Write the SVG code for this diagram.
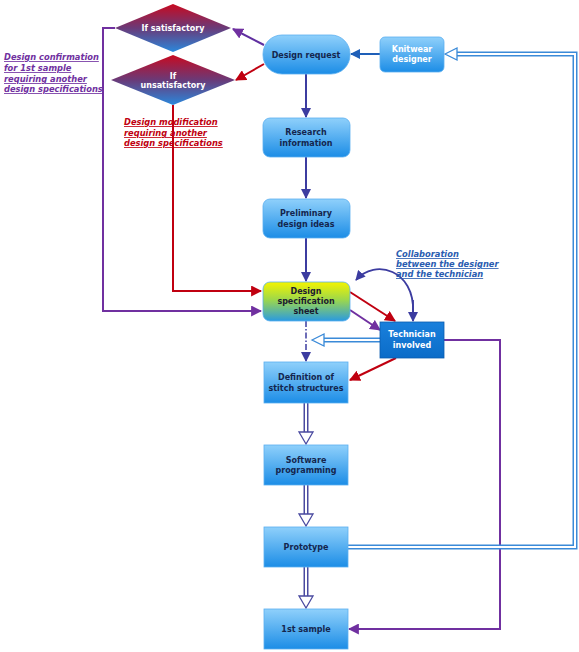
<svg xmlns="http://www.w3.org/2000/svg" width="579" height="652" viewBox="0 0 579 652">
<defs>
<linearGradient id="gBox" x1="0" y1="0" x2="0" y2="1">
<stop offset="0" stop-color="#8fd0fb"/><stop offset="1" stop-color="#1c8de6"/>
</linearGradient>
<linearGradient id="gTech" x1="0" y1="0" x2="0" y2="1">
<stop offset="0" stop-color="#1a80dc"/><stop offset="1" stop-color="#0b6cc8"/>
</linearGradient>
<linearGradient id="gSpec" x1="0" y1="0" x2="0" y2="1">
<stop offset="0" stop-color="#f4f400"/><stop offset="0.45" stop-color="#9ed84a"/><stop offset="1" stop-color="#2a9ae0"/>
</linearGradient>
<linearGradient id="gDia" x1="0" y1="0" x2="0" y2="1">
<stop offset="0" stop-color="#c80a20"/><stop offset="0.5" stop-color="#6a3a78"/><stop offset="1" stop-color="#2a88dc"/>
</linearGradient>
<marker id="aNavy" viewBox="0 0 10 10" refX="9" refY="5" markerWidth="10" markerHeight="10" markerUnits="userSpaceOnUse" orient="auto"><path d="M0,0 L10,5 L0,10 z" fill="#3c3ca0"/></marker>
<marker id="aBlue" viewBox="0 0 10 10" refX="9" refY="5" markerWidth="10" markerHeight="10" markerUnits="userSpaceOnUse" orient="auto"><path d="M0,0 L10,5 L0,10 z" fill="#1e5fb8"/></marker>
<marker id="aRed" viewBox="0 0 10 10" refX="9" refY="5" markerWidth="11" markerHeight="11" markerUnits="userSpaceOnUse" orient="auto"><path d="M0,0 L10,5 L0,10 z" fill="#c00010"/></marker>
<marker id="aPur" viewBox="0 0 10 10" refX="9" refY="5" markerWidth="11" markerHeight="11" markerUnits="userSpaceOnUse" orient="auto"><path d="M0,0 L10,5 L0,10 z" fill="#7030a0"/></marker>
</defs>
<style>
.t{font-family:"DejaVu Sans",Verdana,sans-serif;font-weight:bold;font-size:8px;text-anchor:middle}
.dk{fill:#14264e}
.wh{fill:#ffffff}
.note{font-family:"DejaVu Sans",Verdana,sans-serif;font-weight:bold;font-style:italic;font-size:8.3px;text-decoration:underline}
.box{stroke:#5aaef0;stroke-width:0.8}
.ln{fill:none;stroke-width:2}
.dbl-o{fill:none;stroke:#4a4aa0;stroke-width:5}
.dbl-i{fill:none;stroke:#ffffff;stroke-width:2}
.dblb-o{fill:none;stroke:#3a8ad8;stroke-width:5}
.hollow{fill:#ffffff;stroke:#4a4aa0;stroke-width:1.3}
.hollowb{fill:#ffffff;stroke:#3a8ad8;stroke-width:1.3}
</style>

<g id="connectors">
<!-- satisfactory loop (purple) -->
<path class="ln" stroke="#7030a0" d="M115,28 H103 V311 H261" marker-end="url(#aPur)"/>
<!-- unsatisfactory loop (red) -->
<path class="ln" stroke="#c00010" d="M173,105 V291 H261" marker-end="url(#aRed)"/>
<!-- design request to diamonds -->
<path class="ln" stroke="#6030a0" d="M264,45 L233,29" marker-end="url(#aPur)"/>
<path class="ln" stroke="#c00010" d="M264,64 L236,80" marker-end="url(#aRed)"/>
<!-- knitwear to design request -->
<path class="ln" stroke="#1e5fb8" d="M380,54 H351" marker-end="url(#aBlue)"/>
<!-- main vertical -->
<path class="ln" stroke="#3c3ca0" d="M306,74 V117" marker-end="url(#aNavy)"/>
<path class="ln" stroke="#3c3ca0" d="M306,157 V198" marker-end="url(#aNavy)"/>
<path class="ln" stroke="#3c3ca0" d="M306,238 V281" marker-end="url(#aNavy)"/>
<path fill="none" stroke="#3c3ca0" stroke-width="1.5" stroke-dasharray="6,2,1.5,2" d="M306,321 V361" marker-end="url(#aNavy)"/>
<!-- spec to technician -->
<path class="ln" stroke="#c00010" d="M350,292 L395,321" marker-end="url(#aRed)"/>
<path class="ln" stroke="#7030a0" d="M350,310 L380,330" marker-end="url(#aPur)"/>
<!-- technician to definition -->
<path class="ln" stroke="#c00010" d="M396,358 L350,380" marker-end="url(#aRed)"/>
<!-- collaboration curve -->
<path fill="none" stroke="#3c3ca0" stroke-width="1.8" d="M413,312 C415,270 375,258 356,280" marker-end="url(#aNavy)"/>
<path fill="none" stroke="#3c3ca0" stroke-width="1.8" d="M413,300 V321" marker-end="url(#aNavy)"/>
<!-- technician to spec area (double hollow) -->
<path class="dblb-o" d="M380,340 H320"/>
<path class="dbl-i" d="M381,340 H320"/>
<path class="hollowb" d="M312,340 L324,334 L324,346 z"/>
<!-- technician to 1st sample (purple) -->
<path class="ln" stroke="#7030a0" d="M444,340 H500 V629 H349" marker-end="url(#aPur)"/>
<!-- prototype back to knitwear designer -->
<path class="dblb-o" d="M348,547 H575 V54 H456"/>
<path class="dbl-i" d="M347,547 H575 V54 H456"/>
<path class="hollowb" d="M445,54 L457,48 L457,60 z"/>
<!-- def -> software -->
<path class="dbl-o" d="M306,403 V434"/>
<path class="dbl-i" d="M306,402 V434"/>
<path class="hollow" d="M306,444 L299,432 L313,432 z"/>
<!-- software -> prototype -->
<path class="dbl-o" d="M306,485 V516"/>
<path class="dbl-i" d="M306,484 V516"/>
<path class="hollow" d="M306,526 L299,514 L313,514 z"/>
<!-- prototype -> 1st sample -->
<path class="dbl-o" d="M306,567 V598"/>
<path class="dbl-i" d="M306,566 V598"/>
<path class="hollow" d="M306,608 L299,596 L313,596 z"/>
</g>

<g id="diamond-satisfactory">
<path d="M173,4 L231,28 L173,52 L115,28 z" fill="url(#gDia)"/>
<text class="t wh" x="173" y="31" font-size="7.5">If satisfactory</text>
</g>
<g id="diamond-unsatisfactory">
<path d="M173,55 L235,80 L173,105 L111,80 z" fill="url(#gDia)"/>
<text class="t wh" x="173" y="79" font-size="7.5">If</text>
<text class="t wh" x="173" y="88" font-size="7.5">unsatisfactory</text>
</g>

<g id="note-confirmation">
<text class="note" fill="#7030a0" x="4" y="60">Design confirmation</text>
<text class="note" fill="#7030a0" x="4" y="71">for 1st sample</text>
<text class="note" fill="#7030a0" x="4" y="82">requiring another</text>
<text class="note" fill="#7030a0" x="4" y="92">design specifications</text>
</g>
<g id="note-modification">
<text class="note" fill="#c00010" x="124" y="125">Design modification</text>
<text class="note" fill="#c00010" x="124" y="136">requiring another</text>
<text class="note" fill="#c00010" x="124" y="146">design specifications</text>
</g>
<g id="note-collaboration">
<text class="note" fill="#2a5cb0" x="396" y="257">Collaboration</text>
<text class="note" fill="#2a5cb0" x="396" y="267">between the designer</text>
<text class="note" fill="#2a5cb0" x="396" y="277">and the technician</text>
</g>

<g id="design-request">
<rect class="box" x="263" y="35" width="87" height="39" rx="19" fill="url(#gBox)"/>
<text class="t dk" x="306" y="58">Design request</text>
</g>
<g id="knitwear-designer">
<rect class="box" x="380" y="37" width="64" height="35" rx="5" fill="url(#gBox)"/>
<text class="t wh" x="412" y="52">Knitwear</text>
<text class="t wh" x="412" y="62">designer</text>
</g>
<g id="research-information">
<rect class="box" x="263" y="118" width="87" height="39" rx="7" fill="url(#gBox)"/>
<text class="t dk" x="306" y="135">Research</text>
<text class="t dk" x="306" y="146">information</text>
</g>
<g id="preliminary-design-ideas">
<rect class="box" x="263" y="199" width="87" height="39" rx="7" fill="url(#gBox)"/>
<text class="t dk" x="306" y="216">Preliminary</text>
<text class="t dk" x="306" y="227">design ideas</text>
</g>
<g id="design-specification-sheet">
<rect class="box" x="263" y="282" width="87" height="39" rx="7" fill="url(#gSpec)"/>
<text class="t" fill="#1a1a30" x="306" y="294">Design</text>
<text class="t" fill="#1a1a30" x="306" y="304">specification</text>
<text class="t" fill="#1a1a30" x="306" y="314">sheet</text>
</g>
<g id="technician-involved">
<rect x="380" y="322" width="64" height="36" fill="url(#gTech)" stroke="#0a5cb0" stroke-width="0.8"/>
<text class="t wh" x="412" y="337">Technician</text>
<text class="t wh" x="412" y="348">involved</text>
</g>
<g id="definition-stitch-structures">
<rect class="box" x="264" y="362" width="84" height="41" fill="url(#gBox)"/>
<text class="t dk" x="306" y="380">Definition of</text>
<text class="t dk" x="306" y="391">stitch structures</text>
</g>
<g id="software-programming">
<rect class="box" x="264" y="445" width="84" height="40" fill="url(#gBox)"/>
<text class="t dk" x="306" y="463">Software</text>
<text class="t dk" x="306" y="473">programming</text>
</g>
<g id="prototype">
<rect class="box" x="264" y="527" width="84" height="40" fill="url(#gBox)"/>
<text class="t dk" x="306" y="550">Prototype</text>
</g>
<g id="first-sample">
<rect class="box" x="264" y="609" width="84" height="40" fill="url(#gBox)"/>
<text class="t dk" x="306" y="632">1st sample</text>
</g>
</svg>
